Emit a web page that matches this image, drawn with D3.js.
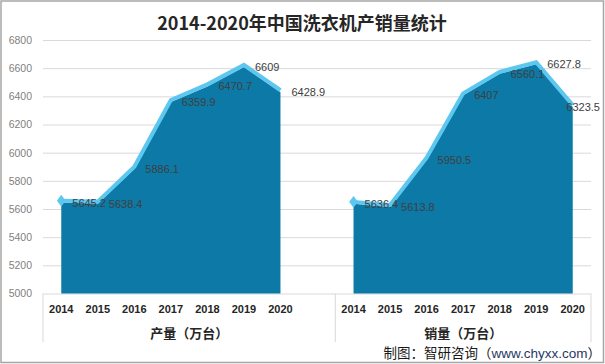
<!DOCTYPE html>
<html><head><meta charset="utf-8">
<script src="https://cdn.jsdelivr.net/npm/d3@7"></script>
<style>
html,body{margin:0;padding:0;background:#fff;}
svg{display:block;}
</style></head>
<body>
<script>
const title = "2014-2020年中国洗衣机产销量统计";
const years = ["2014","2015","2016","2017","2018","2019","2020"];
const groups = ["产量（万台）","销量（万台）"];
const production = [5645.2, 5638.4, 5886.1, 6359.9, 6470.7, 6609, 6428.9];
const sales = [5636.4, 5613.8, 5950.5, 6407, 6560.1, 6627.8, 6323.5];
const yTicks = [5000,5200,5400,5600,5800,6000,6200,6400,6600,6800];
const source = ["制图：智研咨询（", "www.chyxx.com", "）"];

(function(){
const W = 605, H = 364;
const svg = d3.select("body").append("svg").attr("width", W).attr("height", H);
svg.append("rect").attr("x",1).attr("y",1).attr("width",W-2.5).attr("height",H-2.5)
  .attr("fill","#fff").attr("stroke","#a6a6a6").attr("stroke-width",1.5);

const mLeft = 43, mRight = 591, mTop = 40, mBottom = 293.5;
const y = d3.scaleLinear().domain([5000,6800]).range([mBottom, mTop]);

const cats = [...years.map(d=>"p"+d), "blank", ...years.map(d=>"s"+d)];
const x = d3.scaleBand().domain(cats).range([mLeft, mRight]).padding(0);
const cx = k => x(k) + x.bandwidth()/2;

svg.append("text").attr("x", 302).attr("y", 30).attr("text-anchor","middle")
  .attr("font-family","'Noto Sans CJK SC', sans-serif").attr("font-weight","bold")
  .attr("font-size",18).attr("fill","#262626").text(title);

const yAxis = d3.axisLeft(y).tickValues(yTicks).tickSize(-(mRight-mLeft)).tickFormat(d3.format("d"));
const gy = svg.append("g").attr("transform",`translate(${mLeft},0)`).call(yAxis);
gy.select(".domain").remove();
gy.selectAll(".tick line").attr("stroke","#d9d9d9").attr("stroke-width",1);
gy.selectAll(".tick text").attr("x",-11).attr("fill","#7f7f7f")
  .attr("font-family","'Liberation Sans', Arial, sans-serif").attr("font-size",10.5);

const series = [
  {key:"p", vals: production},
  {key:"s", vals: sales}
];

const area = d3.area().x(d=>cx(d.k)).y0(y(5000)).y1(d=>y(d.v));
const line = d3.line().x(d=>cx(d.k)).y(d=>y(d.v));

series.forEach(s=>{
  const pts = years.map((yr,i)=>({k:s.key+yr, v:s.vals[i]}));
  svg.append("path").datum(pts).attr("d",area).attr("fill","#0c79a6");
  const lg = svg.append("g").attr("transform","translate(0,-2)");
  lg.append("path").datum(pts).attr("d",line).attr("fill","none")
    .attr("stroke","#5ec7ef").attr("stroke-width",4).attr("stroke-linejoin","miter");
  const p0 = pts[0];
  lg.append("path").attr("d", d3.symbol(d3.symbolDiamond, 40)())
    .attr("transform",`translate(${cx(p0.k)},${y(p0.v)}) scale(1.3,1)`).attr("fill","#5ec7ef");
  svg.append("g").selectAll("text").data(pts).join("text")
    .attr("x", d=>cx(d.k)+11).attr("y", d=>y(d.v)+4)
    .attr("font-family","'Liberation Sans', Arial, sans-serif").attr("font-size",11)
    .attr("fill","#404040").text(d=>d.v)
    .each(function(){
      const t = d3.select(this);
      const w = this.getComputedTextLength();
      const x0 = +t.attr("x");
      if (x0 + w > 600) t.attr("x", 600).attr("text-anchor","end");
    });
});

const ax = svg.append("g");
[mLeft, x("s2014"), mRight].forEach(xx=>{
  ax.append("line").attr("x1",xx).attr("x2",xx).attr("y1",mBottom).attr("y2",342)
    .attr("stroke","#d9d9d9").attr("stroke-width",1);
});
series.forEach(s=>{
  ax.append("g").selectAll("text").data(years).join("text")
    .attr("x", d=>cx(s.key+d)).attr("y", 313).attr("text-anchor","middle")
    .attr("font-family","'Liberation Sans', Arial, sans-serif").attr("font-weight","bold")
    .attr("font-size",11).attr("fill","#262626").text(d=>d);
});
const gx1 = (mLeft + x("s2014"))/2, gx2 = (x("s2014")+mRight)/2;
[[gx1,groups[0]],[gx2,groups[1]]].forEach(([gx,t])=>{
  ax.append("text").attr("x",gx).attr("y",338).attr("text-anchor","middle")
    .attr("font-family","'Noto Sans CJK SC', sans-serif").attr("font-weight","bold")
    .attr("font-size",13).attr("fill","#262626").text(t);
});

const st = svg.append("text").attr("x",601).attr("y",358).attr("text-anchor","end")
  .attr("font-family","'Noto Sans CJK SC', sans-serif").attr("font-size",13.5).attr("fill","#1a1a1a");
st.append("tspan").text(source[0]);
st.append("tspan").attr("fill","#1f3864").attr("font-family","'Liberation Sans', Arial, sans-serif").text(source[1]);
st.append("tspan").text(source[2]);
})();
</script>
</body></html>
